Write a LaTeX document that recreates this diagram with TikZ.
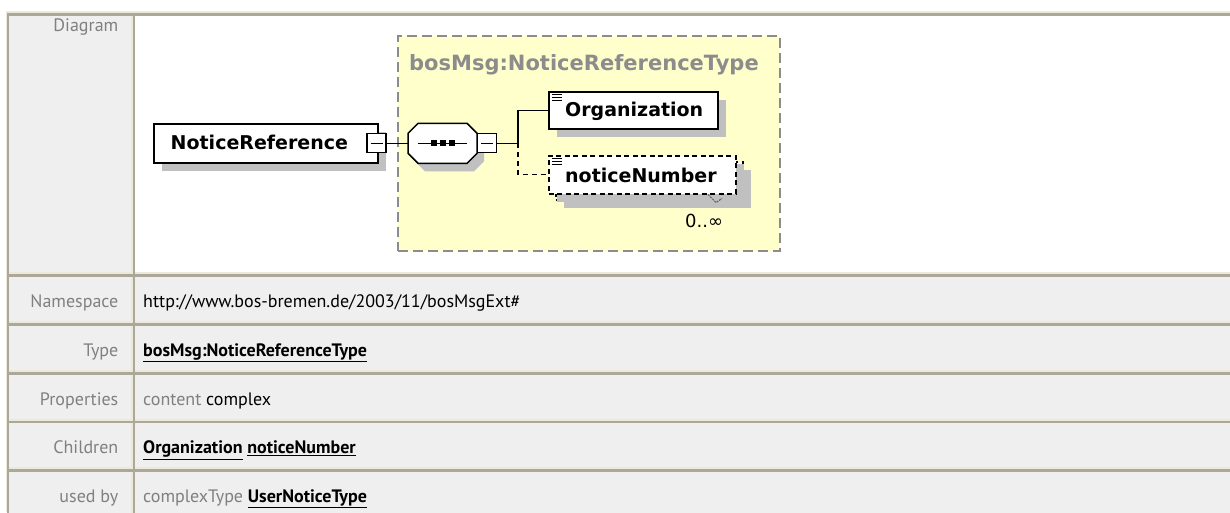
\documentclass[tikz,border=0pt]{standalone}
\usepackage{fontspec}
\setmainfont{PT Sans}
\newfontfamily\diagfont{DejaVu Sans}
\usetikzlibrary{shadows}

\definecolor{cellbg}{HTML}{EFEFEF}
\definecolor{edgedark}{HTML}{ACA899}
\definecolor{edgelight}{HTML}{ECE9D8}
\definecolor{labelgray}{HTML}{808080}
\definecolor{typefill}{HTML}{FFFFCC}
\definecolor{typeedge}{HTML}{8C8C8C}
\definecolor{shadowgray}{HTML}{C0C0C0}

% table cell: x1, y1, x2, y2, fill colour
\newcommand\tcell[5]{%
  \fill[#5] (#1,#2) rectangle (#3,#4);
  \fill[edgelight] (#1,#4-2) rectangle (#3,#4);
  \fill[edgelight] (#3-2,#2) rectangle (#3,#4);
  \fill[edgedark] (#1,#2) rectangle (#3,#2+2.5);
  \fill[edgedark] (#1,#2) rectangle (#1+2,#4);
}
\newcommand\ulink[1]{\textbf{\underline{#1}}}

\tikzset{
  lbl/.style={anchor=base east, text=labelgray, inner sep=0pt,
    font=\fontsize{18}{21}\selectfont},
  val/.style={anchor=base west, inner sep=0pt,
    font=\fontsize{18}{21}\selectfont},
  elembox/.style={draw=black, line width=1.5pt, fill=white, inner sep=0pt,
    anchor=north west,
    drop shadow={shadow xshift=8pt, shadow yshift=-8pt, opacity=1, fill=shadowgray}},
  optbox/.style={elembox, dash pattern=on 5pt off 3.5pt},
  elemtext/.style={anchor=base west, inner sep=0pt,
    font=\diagfont\bfseries\fontsize{19}{22}\selectfont},
  minusbox/.style={draw, line width=1.3pt, fill=white, minimum size=19pt, inner sep=0pt,
    path picture={\draw[line width=1.2pt]
      ([xshift=3.5pt]path picture bounding box.west) --
      ([xshift=-3.5pt]path picture bounding box.east);}},
  conn/.style={line width=1.3pt, black},
}

\begin{document}
\begin{tikzpicture}[x=1pt, y=-1pt]
\useasboundingbox (0,0) rectangle (1230,512);
\fill[white] (0,0) rectangle (1230,512);

% outer table edge
\fill[edgelight] (5.5,11) rectangle (1230,13);
\fill[edgelight] (5.5,11) rectangle (7.5,512);

% rows
\tcell{7}{13}{133}{274}{cellbg}
\tcell{133}{13}{1240}{274}{white}
\foreach \ta/\tb in {274/323, 323/372, 372/420.5, 420.5/469, 469/520}{
  \tcell{7}{\ta}{133}{\tb}{cellbg}
  \tcell{133}{\ta}{1240}{\tb}{cellbg}
}

% row labels
\node (lDiagram) [lbl] at (118.5,31) {Diagram};
\node (lNamespace) [lbl] at (118.5,307) {Namespace};
\node (lType) [lbl] at (118.5,356) {Type};
\node (lProps) [lbl] at (118.5,405) {Properties};
\node (lChildren) [lbl] at (118.5,453.5) {Children};
\node (lUsed) [lbl] at (118.5,502) {used by};

% row values
\node (vNamespace) [val] at (143,307) {http://www.bos-bremen.de/2003/11/bosMsgExt\#};
\node (vType) [val] at (143,356) {\ulink{bosMsg:NoticeReferenceType}};
\node (vProps) [val] at (143,405) {\textcolor{labelgray}{content} complex};
\node (vChildren) [val] at (143,453.5) {\ulink{Organization} \ulink{noticeNumber}};
\node (vUsed) [val] at (143,502) {\textcolor{labelgray}{complexType} \ulink{UserNoticeType}};

% complex type frame
\node (ctype) [draw=typeedge, fill=typefill, line width=1.5pt, dash pattern=on 10pt off 5pt,
  anchor=north west, minimum width=382pt, minimum height=215pt, inner sep=0pt] at (397,35) {};
\node (ctitle) [anchor=base west, inner sep=0pt, text=typeedge,
  font=\diagfont\bfseries\fontsize{21}{24}\selectfont] at (409,70.5) {bosMsg:NoticeReferenceType};

% root element
\node (nr) [elembox, minimum width=224pt, minimum height=39pt] at (153,123) {};
\node (nrtext) [elemtext] at (170.5,149.7) {NoticeReference};
\node (nrminus) [minusbox] at (376.5,143.3) {};

% sequence compositor
\node (seq) [minimum width=69pt, minimum height=40pt, inner sep=0pt] at (442.5,143.3) {};
\fill[shadowgray] (425,131.3) -- (474,131.3) -- (484,141.3) -- (484,161.3)
  -- (474,171.3) -- (425,171.3) -- (415,161.3) -- (415,141.3) -- cycle;
\draw[line width=1.5pt, fill=white] (418,123.3) -- (467,123.3) -- (477,133.3) -- (477,153.3)
  -- (467,163.3) -- (418,163.3) -- (408,153.3) -- (408,133.3) -- cycle;
\draw[line width=1.3pt] (418,143.3) -- (467,143.3);
\foreach \cx in {433.5,442.5,451.5}
  \fill (\cx-3,140.3) rectangle (\cx+3,146.3);
\node (seqminus) [minusbox] at (487,143.3) {};

% child elements
\node (org) [elembox, minimum width=169pt, minimum height=37pt] at (548,91) {};
\node (orgtext) [elemtext] at (565,116.8) {Organization};
\node (nnback) [optbox, minimum width=187pt, minimum height=38pt] at (555,161) {};
\node (nn) [optbox, minimum width=187pt, minimum height=38pt, drop shadow={opacity=0}] at (548,155) {};
\node (nntext) [elemtext] at (565,182) {noticeNumber};
\node (card) [anchor=base west, inner sep=0pt, font=\diagfont\fontsize{18}{20}\selectfont]
  at (685,227.5) {0..∞};
\draw[black!65, line width=1pt, dash pattern=on 2pt off 1pt] (708,194.5) -- (716,202.5) -- (722,198.5);

% content icons
\foreach \yy in {94,97,100,158,161,164}
  \draw[line width=1pt] (552,\yy) -- (562,\yy);

% connectors
\coordinate (branch) at (518,143.3);
\draw[conn] (nrminus.east) -- (seq.west);
\draw[conn] (seqminus.east) -- (branch);
\draw[conn] (branch) |- (org.west);
\draw[conn, dash pattern=on 5pt off 4pt] (branch) |- (nn.west);
\end{tikzpicture}
\end{document}
